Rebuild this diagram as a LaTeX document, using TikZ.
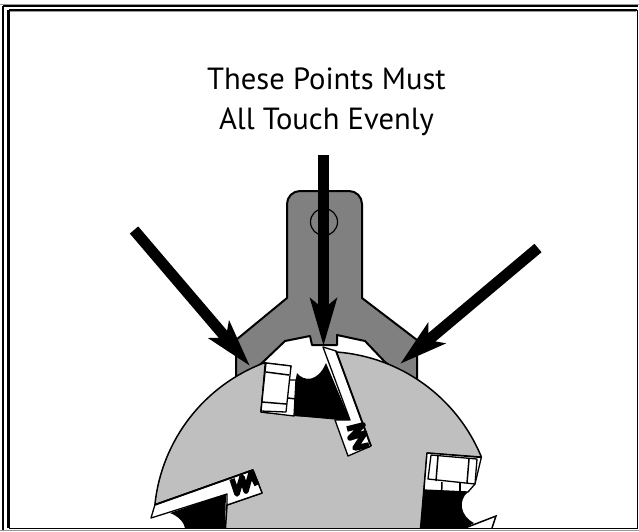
\documentclass[tikz,border=0pt]{standalone}
\usepackage{fontspec}
\setmainfont{PT Sans}
\usetikzlibrary{arrows.meta}

\begin{document}
\begin{tikzpicture}[
    x=1pt, y=-1pt,
    bigarr/.style={-{Stealth[length=47pt, width=26pt, inset=10pt]}, line width=11pt},
    gauge/.style={draw, fill=black!50, line width=2pt, line join=round},
    disc/.style={draw, fill=black!25, line width=1.5pt, line join=round},
    slotbox/.style={draw, fill=white, line width=1.3pt, line join=round},
    gullet/.style={fill=black},
    spring/.style={draw, line width=5.5pt, line join=round},
    thinline/.style={line width=1.5pt},
    label/.style={font=\fontsize{30.6}{40}\selectfont, align=center, text=black}
]
    \useasboundingbox (0,0) rectangle (639,531);
    \fill[white] (0,0) rectangle (639,531);

    % Arrow ends
    \coordinate (tailleft) at (134,230);
    \coordinate (tipleft) at (250,366);
    \coordinate (tailmid) at (323.5,155);
    \coordinate (tipmid) at (323.5,346);
    \coordinate (tailright) at (538,248);
    \coordinate (tipright) at (400,364);

    % Text
    \node[label] (title) at (326.5,102) {These Points Must\\All Touch Evenly};

    \begin{scope}
    \clip (0,0) rectangle (639,528);

    % Gauge
    \path[gauge] (236,385) -- (236,340) -- (287,298) -- (287,204)
        arc[start angle=180, end angle=90, radius=13pt] -- (349,191)
        arc[start angle=90, end angle=0, radius=13pt] -- (362,298)
        -- (417,340) -- (417,385) -- (385,362) -- (365,341) -- (337,335)
        -- (337,345) -- (312,345) -- (310,336) -- (285,341) -- (263,362) -- cycle;
    \node[draw, circle, line width=1.2pt, minimum size=27pt, inner sep=0pt] (hole) at (324,222) {};

    % Disc body
    \path[disc] (154.9,504.8) arc[start angle=174.2, end angle=110.2, radius=170pt]
        -- (261,412) -- (348,420) -- (336,352)
        arc[start angle=86, end angle=22.3, radius=170pt]
        -- (427,453) -- (420,535) -- (225,535) -- (227,505) -- (262,493) -- (253,470) -- cycle;

    % Top clamp
    \path[slotbox] (266,363) -- (261,412) -- (294,416) -- (296,380) -- (288,380) -- (291,366) -- cycle;
    \path[slotbox] (266,363) -- (291,366) -- (286,412) -- (261,411) -- cycle;
    \draw[thinline] (266,372) -- (289,375);
    \draw[thinline] (262,402) -- (286,404);
    \draw[thinline] (288,398) -- (296,399);

    % Top gullet and blade
    \path[gullet] (296,378) -- (297,373) .. controls (304,382) and (318,382) .. (326,363)
        -- (350,420) -- (294,416) -- cycle;
    \path[slotbox] (323,347) -- (336,351) -- (371,446) -- (348,456) -- (335,420) -- (350,420) -- cycle;
    \draw[line width=1.8pt] (336,351) -- (371,446);
    \draw[spring] (347,429) -- (363,425) -- (350,438) -- (365,433) -- (355,448) -- (369,445);

    % Left blade
    \path[slotbox] (154.9,504.8) -- (253,470) -- (262,493) -- (227,505) -- (227,494) -- (151,518) -- cycle;
    \draw[line width=1.8pt] (154.9,504.8) -- (253,470);
    \path[gullet] (170,513) -- (226,494) -- (225,528) -- (185,528)
        .. controls (184,522) and (178,516) .. (170,513);
    \draw[spring] (232,479) -- (237,494) -- (242,477) -- (246,491) -- (251,473) -- (257,485);

    % Right clamp
    \path[slotbox] (427,453) -- (481.3,457.5) -- (475,484) -- (468,492) -- (424,490) -- cycle;
    \path[slotbox] (431,455) -- (477,459) -- (475,484) -- (428,479) -- cycle;
    \draw[thinline] (438,456) -- (436,481);
    \draw[thinline] (469,459) -- (467,483);
    \draw[thinline] (442,482) -- (441.7,490);
    \draw[thinline] (460,483) -- (460,491);
    \path[gullet] (423.5,490) -- (468,492) .. controls (458,500) and (460,516) .. (474,523)
        -- (465,528) -- (420.5,528) -- cycle;
    \draw[thinline] (465,528) -- (496,516) -- (492,528);

    % Pointers
    \draw[bigarr] (tailleft) -- (tipleft);
    \draw[bigarr] (tailmid) -- (tipmid);
    \draw[bigarr] (tailright) -- (tipright);
    \end{scope}

    % Border
    \draw[black!40, line width=1pt] (0,4.5) -- (639,4.5);
    \draw[line width=2pt] (3,6) -- (638,6);
    \draw[line width=2pt] (3,6) -- (3,531);
    \draw[line width=2.4pt] (8.5,10) -- (637.2,10);
    \draw[line width=2.4pt] (8.5,10) -- (8.5,528.2);
    \draw[black!40, line width=1pt] (10,11.7) -- (636,11.7);
    \draw[line width=1.3pt] (637.2,10) -- (637.2,528.2) -- (8.5,528.2);
    \draw[black!40, line width=1pt] (0,530.5) -- (639,530.5);
\end{tikzpicture}
\end{document}
